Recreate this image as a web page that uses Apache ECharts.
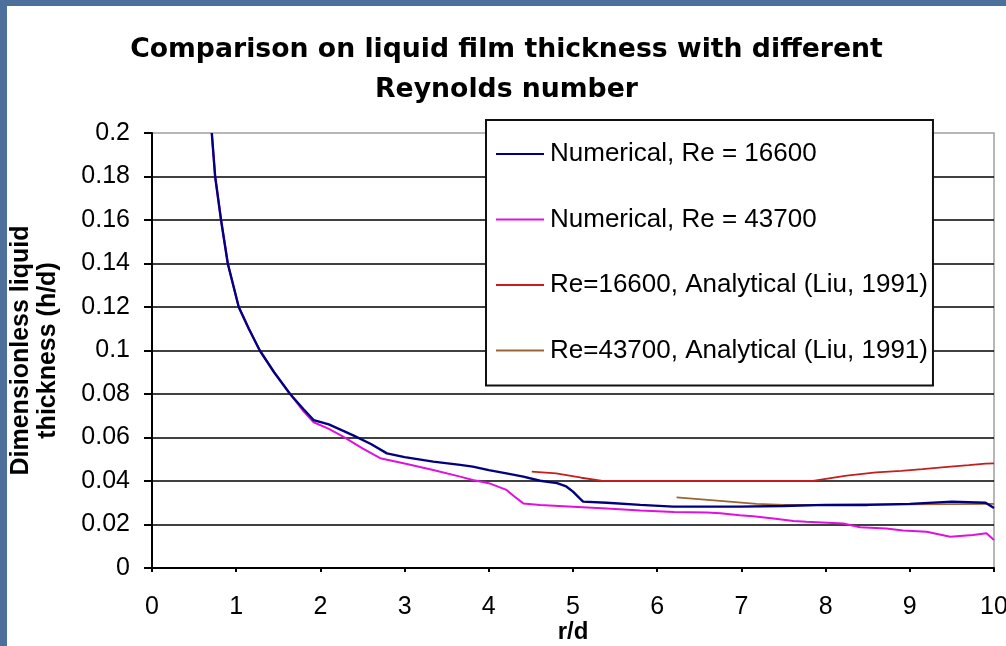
<!DOCTYPE html>
<html>
<head>
<meta charset="utf-8">
<script src="https://cdn.jsdelivr.net/npm/echarts@6/dist/echarts.min.js"></script>
<style>
html,body{margin:0;padding:0;width:1006px;height:646px;overflow:hidden;background:#4c6f9c;}
#chart{position:absolute;left:7px;top:6px;width:999px;height:640px;background:#fff;}
</style>
</head>
<body>
<div id="chart"></div>
<script>
// ---- data ----
const titleText = 'Comparison on liquid film thickness with different\nReynolds number';
const xName = 'r/d';
const yName = 'Dimensionless liquid\nthickness (h/d)';
const seriesNames = [
  'Numerical, Re = 16600',
  'Numerical, Re = 43700',
  'Re=16600, Analytical (Liu, 1991)',
  'Re=43700, Analytical (Liu, 1991)'
];

const num16600X = [0.71,0.75,0.82,0.90,1.03,1.15,1.28,1.45,1.64,1.80,1.92,2.10,2.39,2.60,2.79,3.00,3.34,3.66,3.81,4.00,4.21,4.41,4.61,4.81,4.92,5.00,5.08,5.12,5.40,5.80,6.19,6.50,6.98,7.50,8.00,8.50,9.00,9.50,9.90,10.0];
const num16600Y = [0.200,0.180,0.160,0.140,0.120,0.110,0.100,0.090,0.080,0.073,0.068,0.066,0.061,0.057,0.0527,0.051,0.0489,0.0474,0.0466,0.045,0.0435,0.042,0.0401,0.039,0.0375,0.0351,0.032,0.0305,0.030,0.029,0.0282,0.0282,0.0282,0.0285,0.029,0.029,0.0295,0.0305,0.030,0.0276];

const num43700X = [0.71,0.75,0.82,0.90,1.03,1.15,1.28,1.45,1.64,1.80,1.92,2.10,2.27,2.50,2.71,3.00,3.34,3.66,3.81,4.00,4.21,4.30,4.41,4.61,5.00,5.40,5.80,6.20,6.59,6.75,6.98,7.14,7.38,7.62,7.77,8.21,8.41,8.72,8.92,9.20,9.48,9.75,9.91,10.0];
const num43700Y = [0.200,0.180,0.160,0.140,0.120,0.110,0.100,0.090,0.080,0.072,0.067,0.064,0.0604,0.055,0.0505,0.048,0.0451,0.042,0.0405,0.039,0.0359,0.033,0.0297,0.029,0.0282,0.0274,0.0264,0.0258,0.0255,0.0252,0.0242,0.0238,0.0228,0.0216,0.0213,0.0205,0.0187,0.0182,0.0172,0.0167,0.0144,0.0152,0.016,0.0129];

const ana16600X = [4.51,4.80,5.10,5.35,7.85,8.25,8.60,8.90,9.15,9.45,9.70,9.90,10.0];
const ana16600Y = [0.0443,0.0435,0.0415,0.0401,0.0401,0.0425,0.044,0.0447,0.0455,0.0465,0.0473,0.048,0.0481];

const ana43700X = [6.23,6.71,7.18,7.50,8.00,8.50,9.00,9.50,10.0];
const ana43700Y = [0.0325,0.031,0.0295,0.029,0.029,0.0292,0.0293,0.0294,0.0295];

const colors = ['#000080', '#e010e0', '#c41e1e', '#996633'];
const widths = [2.4, 2, 1.8, 1.8];

function zip(xs, ys) { return xs.map((x, i) => [x, ys[i]]); }
const allData = [
  zip(num16600X, num16600Y),
  zip(num43700X, num43700Y),
  zip(ana16600X, ana16600Y),
  zip(ana43700X, ana43700Y)
];

const FONT = 'Arial, "Liberation Sans", sans-serif';
const chart = echarts.init(document.getElementById('chart'), null, {renderer: 'canvas'});

chart.setOption({
  animation: false,
  backgroundColor: '#ffffff',
  textStyle: {fontFamily: FONT},
  title: {
    text: titleText,
    left: 'center',
    top: 19,
    textStyle: {fontFamily: '"DejaVu Sans", Arial, sans-serif', fontSize: 26.7, fontWeight: 'bold', color: '#000', lineHeight: 40}
  },
  legend: {
    orient: 'vertical',
    left: 479,
    top: 114,
    padding: [21, 5, 22, 10],
    itemGap: 39.5,
    itemWidth: 48,
    itemHeight: 2,
    icon: 'rect',
    itemStyle: {borderWidth: 0},
    backgroundColor: '#ffffff',
    borderColor: '#111',
    borderWidth: 2,
    textStyle: {fontFamily: FONT, fontSize: 26, color: '#000', lineHeight: 26, padding: [0,0,0,1]},
    data: seriesNames
  },
  grid: {
    left: 145, top: 127, right: 12, bottom: 78,
    outerBoundsMode: 'none',
    containLabel: false,
    show: true, borderColor: '#a0a0a0', borderWidth: 1.5, backgroundColor: 'transparent'
  },
  xAxis: {
    type: 'value', min: 0, max: 10, interval: 1,
    name: xName, nameLocation: 'middle', nameGap: 51, nameMoveOverlap: false,
    nameTextStyle: {fontFamily: FONT, fontSize: 24, fontWeight: 'bold', color: '#000', verticalAlign: 'top', lineHeight: 26},
    axisLine: {show: true, onZero: false, lineStyle: {color: '#000', width: 2}},
    axisTick: {show: true, inside: false, length: 4, lineStyle: {color: '#000', width: 2}},
    axisLabel: {fontFamily: FONT, fontSize: 25, color: '#000', margin: 27},
    splitLine: {show: false}
  },
  yAxis: {
    type: 'value', min: 0, max: 0.2, interval: 0.02,
    name: yName, nameLocation: 'middle', nameGap: 90, nameMoveOverlap: false,
    nameTextStyle: {fontFamily: FONT, fontSize: 25, fontWeight: 'bold', color: '#000', lineHeight: 27, align: 'center'},
    axisLine: {show: true, lineStyle: {color: '#000', width: 2}},
    axisTick: {show: true, inside: false, length: 8, lineStyle: {color: '#000', width: 2}},
    axisLabel: {fontFamily: FONT, fontSize: 25, color: '#000', margin: 22,
      formatter: v => String(Math.round(v * 100) / 100)},
    splitLine: {show: true, showMaxLine: false, lineStyle: {color: '#000', width: 1.5}}
  },
  series: seriesNames.map((n, i) => ({
    name: n,
    type: 'line',
    data: allData[i],
    showSymbol: false,
    symbol: 'none',
    smooth: false,
    color: colors[i],
    itemStyle: {color: colors[i]},
    lineStyle: {color: colors[i], width: widths[i]},
    z: 3 + (3 - i)
  }))
});
</script>
</body>
</html>
